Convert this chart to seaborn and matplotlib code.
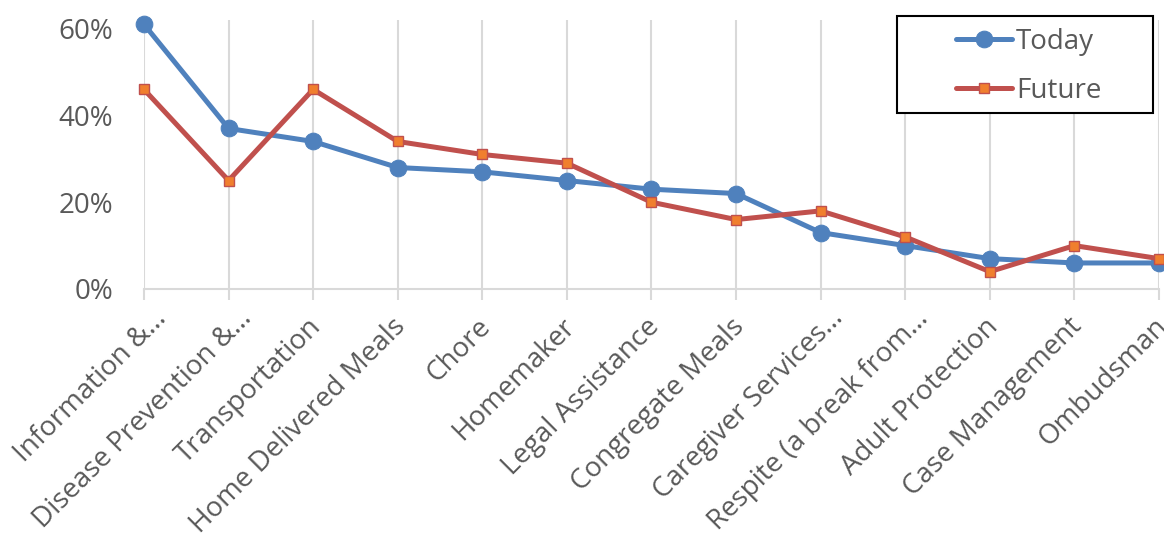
import matplotlib
matplotlib.use("Agg")
import matplotlib.pyplot as plt
import matplotlib.transforms as mtransforms
import seaborn as sns
import pandas as pd
from matplotlib.ticker import PercentFormatter
from matplotlib.patches import Rectangle

categories = ["Information &…", "Disease Prevention &…", "Transportation",
              "Home Delivered Meals", "Chore", "Homemaker", "Legal Assistance",
              "Congregate Meals", "Caregiver Services…", "Respite (a break from…",
              "Adult Protection", "Case Management", "Ombudsman"]
today = [0.61, 0.37, 0.34, 0.28, 0.27, 0.25, 0.23, 0.22, 0.13, 0.10, 0.07, 0.06, 0.06]
future = [0.46, 0.25, 0.46, 0.34, 0.31, 0.29, 0.20, 0.16, 0.18, 0.12, 0.04, 0.10, 0.07]

sns.set_theme(style="white")
plt.rcParams['font.family'] = ['Open Sans', 'DejaVu Sans']

df = pd.DataFrame({"idx": list(range(len(categories))), "Today": today, "Future": future})

fig = plt.figure(figsize=(11.64, 5.33), dpi=100)
ax = fig.add_axes([0.1237, 0.4578, 0.9957 - 0.1237, 0.9625 - 0.4578])

sns.lineplot(data=df, x="idx", y="Today", ax=ax, color="#4F81BD",
             marker="o", markersize=12, markerfacecolor="#4F81BD",
             markeredgecolor="#4F81BD", label="Today", sort=False)
sns.lineplot(data=df, x="idx", y="Future", ax=ax, color="#C0504D",
             marker="s", markersize=7.5, markerfacecolor="#F07F2E",
             markeredgecolor="#C0504D", markeredgewidth=1.0, label="Future", sort=False)

for line in ax.lines:
    line.set_linewidth(3.6)
    line.set_clip_on(False)

ax.set_xlim(0, len(categories) - 1)
ax.set_ylim(0, 0.62)
ax.set_yticks([0, 0.2, 0.4, 0.6])
ax.yaxis.set_major_formatter(PercentFormatter(1.0, decimals=0))
ax.set_xticks(range(len(categories)))
ax.set_xticklabels(categories, rotation=45, ha="right", rotation_mode="anchor")
ax.set_xlabel("")
ax.set_ylabel("")

for s in ["left", "top", "right"]:
    ax.spines[s].set_visible(False)
ax.spines["bottom"].set_color("#D9D9D9")
ax.spines["bottom"].set_linewidth(1.5)
ax.spines["bottom"].set_zorder(0)

ax.grid(axis="x", color="#D9D9D9", linewidth=1.5)
ax.grid(axis="y", visible=False)
ax.set_axisbelow(True)

ax.tick_params(axis="x", which="major", bottom=True, length=8, width=1.5,
               color="#D9D9D9", labelsize=20, labelcolor="#595959", pad=9)
ax.tick_params(axis="y", left=False, labelsize=20, labelcolor="#595959", pad=16)

for lab in ax.get_xticklabels():
    if lab.get_text().endswith("…"):
        off = mtransforms.ScaledTranslation(9 / 100, 8 / 100, fig.dpi_scale_trans)
    else:
        off = mtransforms.ScaledTranslation(-6 / 100, 0, fig.dpi_scale_trans)
    lab.set_transform(lab.get_transform() + off)

# legend box
box = Rectangle((897 / 1164, 1 - 113 / 533), 256 / 1164, 97 / 533,
                transform=fig.transFigure, fill=True, facecolor="white",
                edgecolor="black", linewidth=1.5, zorder=5, clip_on=False)
ax.add_patch(box)
leg = ax.legend(loc="center", bbox_to_anchor=(1029 / 1164, 1 - 66.5 / 533),
                bbox_transform=fig.transFigure, frameon=False, fontsize=20,
                handlelength=2.0, handletextpad=0.15, labelspacing=0.75,
                borderpad=0, borderaxespad=0)
leg.set_zorder(6)
for t in leg.get_texts():
    t.set_color("#595959")

fig.savefig("out.png", dpi=100)
